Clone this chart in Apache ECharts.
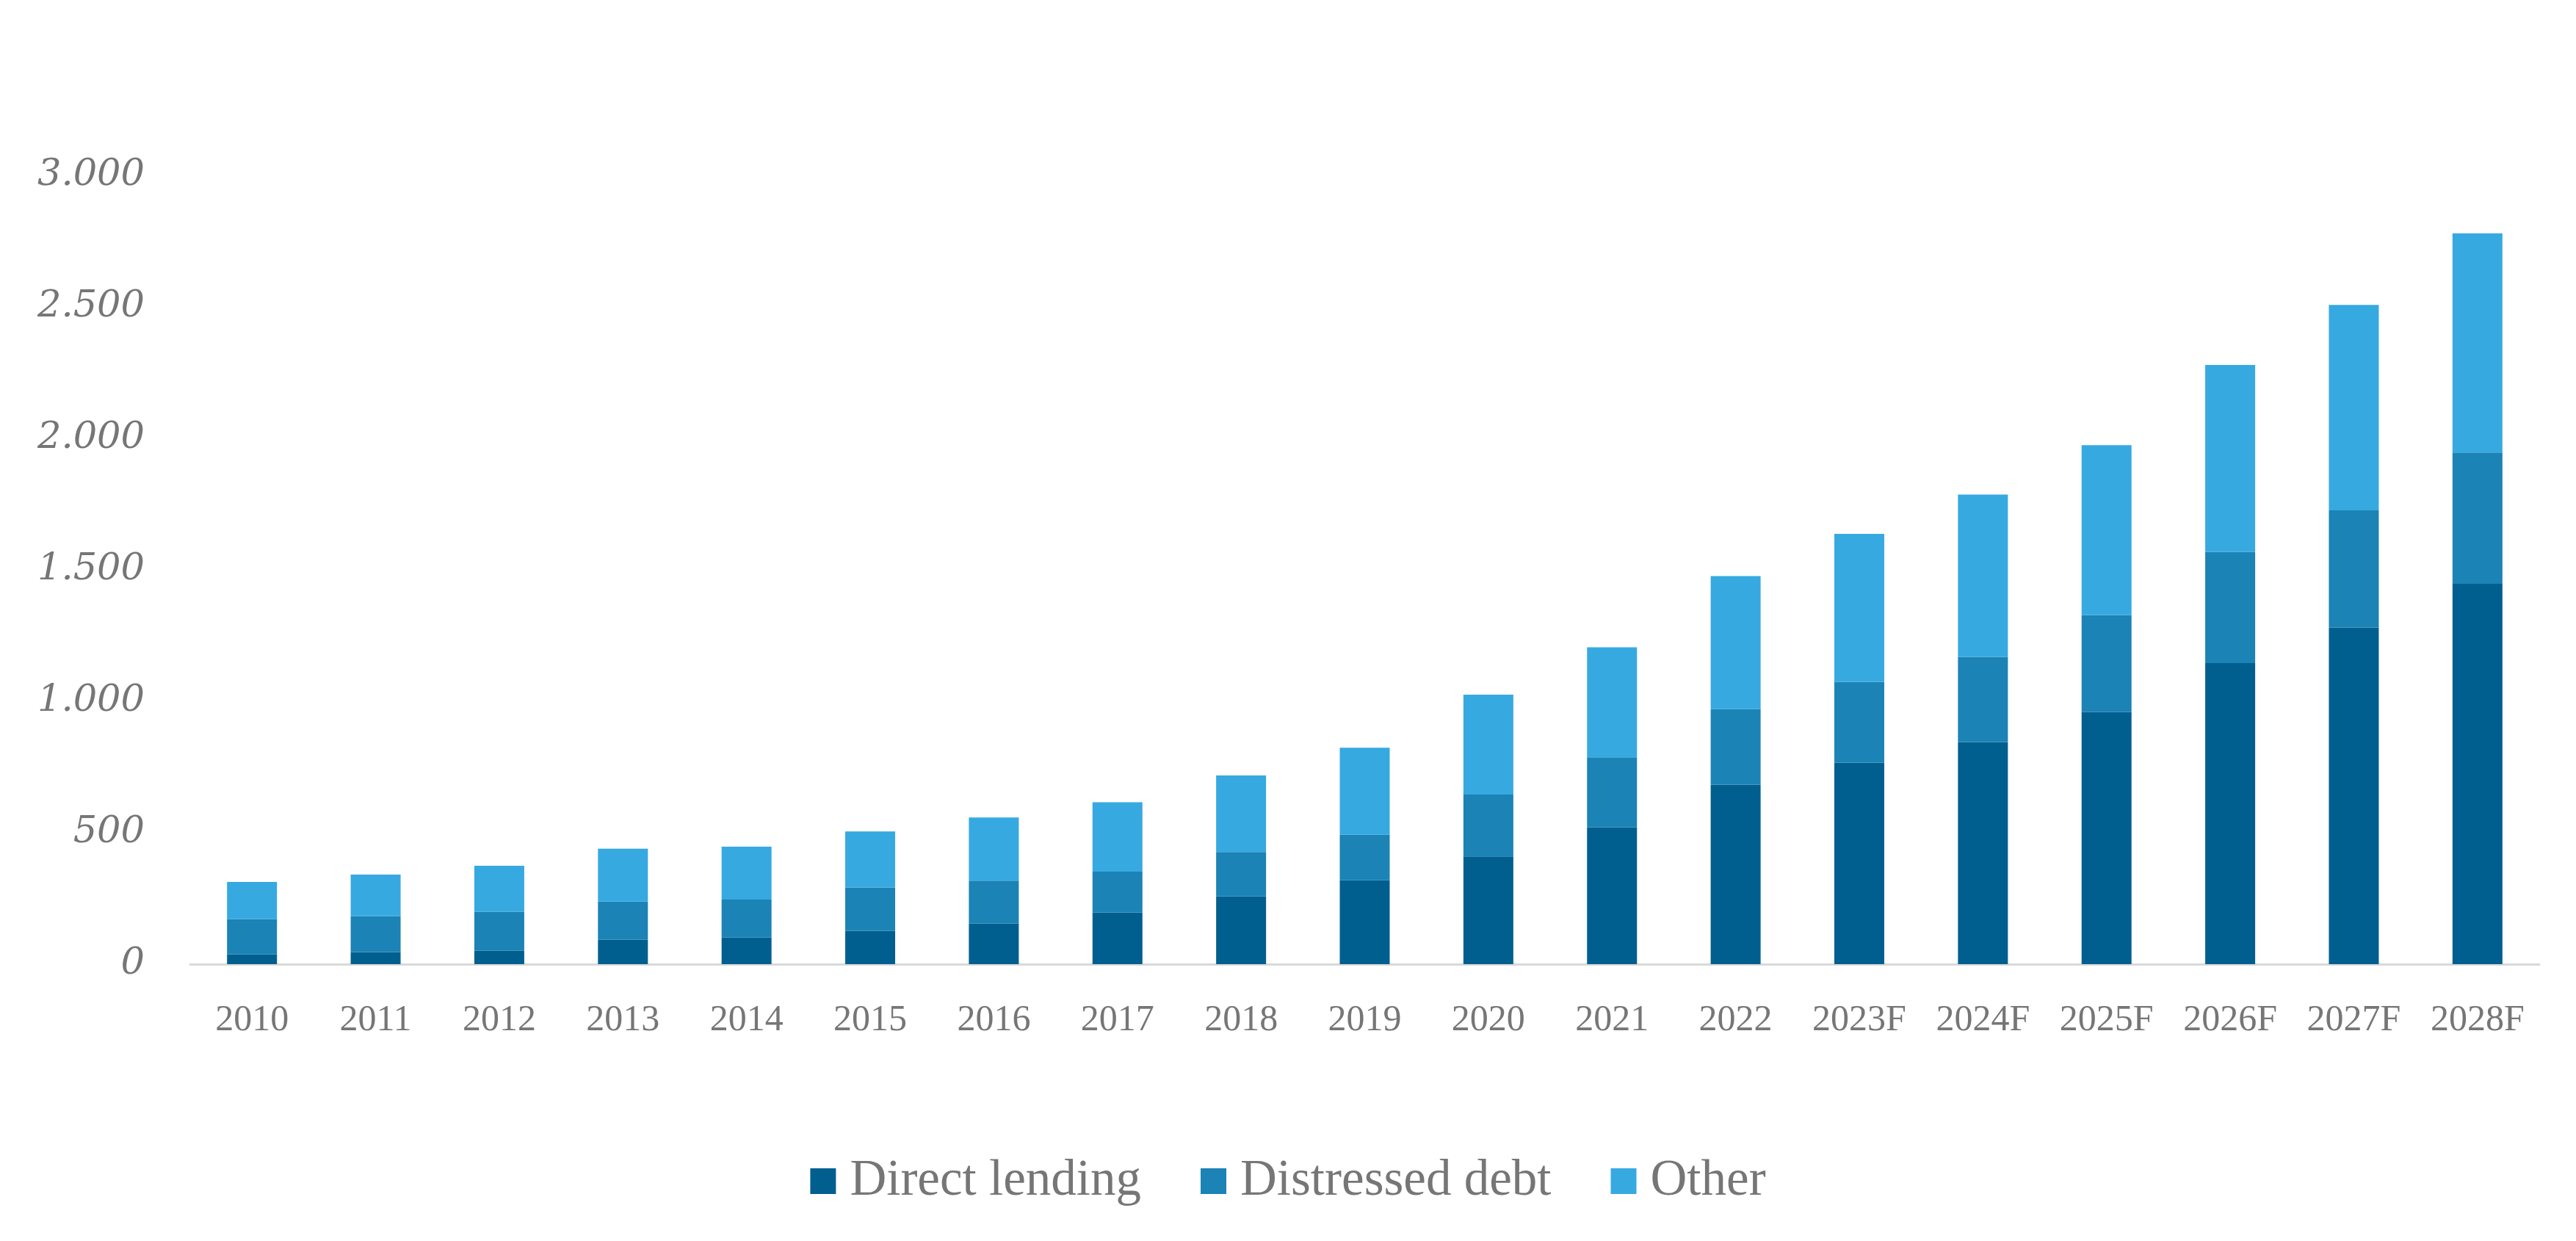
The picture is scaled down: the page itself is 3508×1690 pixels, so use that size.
<!DOCTYPE html>
<html>
<head>
<meta charset="utf-8">
<script src="https://cdn.jsdelivr.net/npm/echarts@6/dist/echarts.min.js"></script>
<style>
html,body{margin:0;padding:0;background:#fff;}
#chart{width:3508px;height:1690px;}
</style>
</head>
<body>
<div id="chart"></div>
<script>
const categories = ['2010','2011','2012','2013','2014','2015','2016','2017','2018','2019','2020','2021','2022','2023F','2024F','2025F','2026F','2027F','2028F'];
const directLending = [37, 46, 51, 93, 101, 127, 155, 197, 258, 319, 410, 521, 683, 767, 845, 959, 1145, 1281, 1447];
const distressedDebt = [134, 137, 149, 145, 145, 164, 163, 155, 169, 173, 235, 266, 287, 306, 324, 369, 423, 445, 499];
const other = [142, 158, 174, 201, 201, 214, 240, 264, 291, 331, 380, 418, 506, 564, 617, 646, 711, 782, 834];
const seriesNames = ['Direct lending', 'Distressed debt', 'Other'];
const colors = ['#005F8F', '#1B83B5', '#37A9E1'];

const chart = echarts.init(document.getElementById('chart'));
const textColor = '#767676';
function fmt(v){ return String(v).replace(/\B(?=(\d{3})+(?!\d))/g, '.'); }

const data = [directLending, distressedDebt, other];
chart.setOption({
  animation: false,
  color: colors,
  grid: { left: 259, right: 50, top: 239, bottom: 377, containLabel: false },
  legend: {
    bottom: 42,
    left: 'center',
    itemWidth: 35,
    itemHeight: 35,
    itemGap: 81,
    icon: 'rect',
    textStyle: { fontFamily: 'Liberation Serif', fontSize: 69, color: textColor, padding: [0, 0, 0, 14] },
    data: seriesNames
  },
  xAxis: {
    type: 'category',
    data: categories,
    axisLine: { show: true, lineStyle: { color: '#D9D9D9', width: 3 } },
    axisTick: { show: false },
    axisLabel: { interval: 0, hideOverlap: false, fontFamily: 'Liberation Serif', fontSize: 50, color: textColor, margin: 52 }
  },
  yAxis: {
    type: 'value',
    min: 0,
    max: 3000,
    interval: 500,
    axisLine: { show: false },
    axisTick: { show: false },
    splitLine: { show: false },
    axisLabel: {
      fontFamily: 'DejaVu Serif',
      fontStyle: 'italic',
      fontSize: 51,
      color: textColor,
      margin: 62,
      formatter: fmt
    }
  },
  series: seriesNames.map((name, i) => ({
    name: name,
    type: 'bar',
    stack: 'total',
    barWidth: 68,
    data: data[i],
    itemStyle: { color: colors[i] }
  }))
});
</script>
</body>
</html>
